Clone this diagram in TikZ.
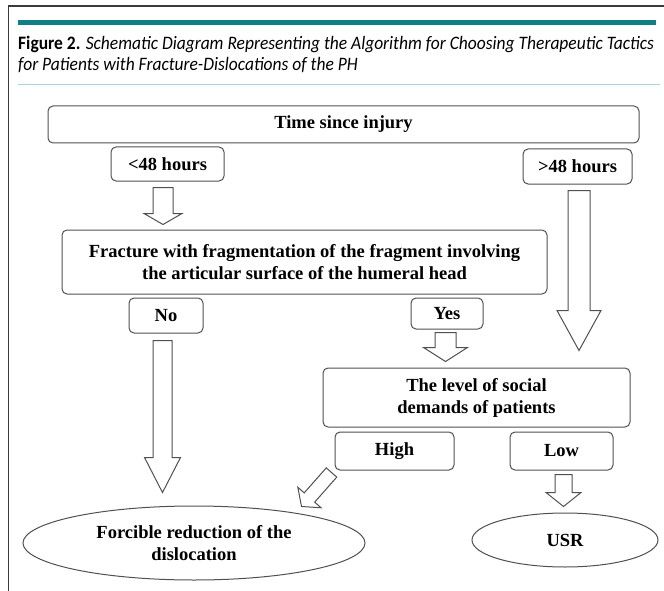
\documentclass[tikz,border=0pt]{standalone}
\usepackage{fontspec}
\setmainfont{Liberation Serif}
\newfontfamily\capfont{Carlito}[FakeStretch=0.92]
\usetikzlibrary{calc,shapes.geometric}
\definecolor{figTeal}{HTML}{0E7F85}
\definecolor{figLightTeal}{HTML}{A9D6DB}
\definecolor{frameGray}{HTML}{3A3A3A}
\definecolor{boxGray}{HTML}{505050}
\newcommand{\boxtext}{\fontsize{18.5}{22}\selectfont\bfseries}
% hollow block arrow: start, tip, shaft half width, head half width, head length
\newcommand{\hollowarrow}[5]{%
  \coordinate (ha-s) at #1;
  \coordinate (ha-t) at #2;
  \coordinate (ha-h) at ($(ha-t)!#5!(ha-s)$);
  \draw[hollow] ($(ha-s)!#3!90:(ha-t)$) -- ($(ha-h)!#3!-90:(ha-s)$)
    -- ($(ha-h)!#4!-90:(ha-s)$) -- (ha-t) -- ($(ha-h)!#4!90:(ha-s)$)
    -- ($(ha-h)!#3!90:(ha-s)$) -- ($(ha-s)!#3!-90:(ha-t)$) -- cycle;
}
\tikzset{
  choice/.style={draw=boxGray,line width=1pt,rounded corners=5pt,font=\boxtext,
                 align=center,inner sep=0pt},
  outcome/.style={draw=boxGray,line width=1pt,ellipse,font=\boxtext,
                  align=center,inner sep=0pt},
  hollow/.style={draw=boxGray,line width=1pt,fill=white,line join=miter},
}

\begin{document}
\begin{tikzpicture}[x=1pt,y=-1pt]
  \useasboundingbox (0,0) rectangle (664,591);
  % frame and caption
  \draw[frameGray,line width=1.5pt] (8.5,591) -- (8.5,6) -- (664,6);
  \fill[figTeal] (18,20) rectangle (656,25);
  \node[anchor=base west,inner sep=0pt,font=\capfont\fontsize{19}{21}\selectfont] (cap1) at (18,50)
    {\textbf{Figure 2.} \textit{Schematic Diagram Representing the Algorithm for Choosing Therapeutic Tactics}};
  \node[anchor=base west,inner sep=0pt,font=\capfont\fontsize{19}{21}\selectfont] (cap2) at (18,71)
    {\textit{for Patients with Fracture-Dislocations of the PH}};
  \draw[figLightTeal,line width=1pt] (18,84.5) -- (660,84.5);

  % decision boxes
  \node[choice,minimum width=591pt,minimum height=37pt] (time) at (343.5,124.5) {Time since injury};
  \node[choice,minimum width=113pt,minimum height=34pt] (lt48) at (167.5,164) {<48 hours};
  \node[choice,minimum width=109pt,minimum height=35pt] (gt48) at (577.5,166.5) {>48 hours};
  \node[choice,minimum width=485pt,minimum height=64pt] (frac) at (304.5,262)
    {Fracture with fragmentation of the fragment involving\\the articular surface of the humeral head};
  \node[choice,minimum width=74pt,minimum height=35pt] (no) at (166,315.5) {No};
  \node[choice,minimum width=72pt,minimum height=31pt] (yes) at (447,313.5) {Yes};
  \node[choice,minimum width=307pt,minimum height=59pt] (social) at (476.5,397.5)
    {The level of social\\demands of patients};
  \node[choice,minimum width=119pt,minimum height=38pt] (high) at (394.5,451) {High};
  \node[choice,minimum width=103pt,minimum height=38pt] (low) at (561.5,451) {Low};
  % outcomes
  \node[outcome,minimum width=342pt,minimum height=74pt] (forc) at (194,543)
    {Forcible reduction of the\\dislocation};
  \node[outcome,minimum width=186pt,minimum height=54pt] (usr) at (565,540) {USR};

  % arrows
  \hollowarrow{($(lt48.south)+(-4.5,6)$)}{($(lt48.south |- frac.north)+(-4.5,-5)$)}{10pt}{19pt}{11pt}
  \hollowarrow{($(gt48.south)+(1.5,6)$)}{($(gt48.south |- social.north)+(1.5,-17)$)}{11pt}{22pt}{40pt}
  \hollowarrow{($(no.south)+(-3.5,7)$)}{($(no.south |- forc.north)+(-3.5,-13)$)}{9.5pt}{18pt}{35pt}
  \hollowarrow{($(yes.south)+(-1.5,3)$)}{($(yes.south |- social.north)+(-1.5,-6)$)}{10.5pt}{22pt}{14pt}
  \hollowarrow{($(high.south west)+(-3,2)$)}{($(high.south west)+(-33,36)$)}{7pt}{15.5pt}{12pt}
  \hollowarrow{($(low.south)+(2,4)$)}{($(low.south |- usr.north)+(2,-6)$)}{8.5pt}{17.5pt}{14pt}
\end{tikzpicture}
\end{document}
